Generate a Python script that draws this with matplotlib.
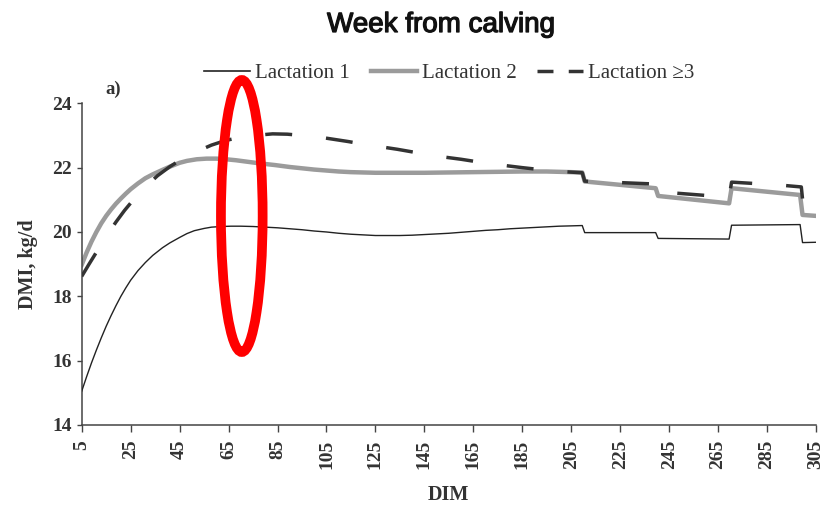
import matplotlib
matplotlib.use("Agg")
import matplotlib.pyplot as plt
import matplotlib.patheffects as pe
from matplotlib.lines import Line2D
from matplotlib.patches import Ellipse

plt.rcParams['lines.scale_dashes'] = False
plt.rcParams['font.family'] = ['Liberation Serif', 'DejaVu Serif']

# ---------------- data ----------------
dim_l1 = [5, 7, 9, 11, 13, 15, 17, 19, 21, 23, 25, 28, 31, 34, 38, 41, 45, 48, 51,
          55, 58, 62, 66, 70, 75, 80, 85, 90, 95, 100, 105, 110, 115, 120, 125,
          130, 135, 140, 145, 150, 155, 160, 165, 170, 175, 180, 185, 190, 195,
          200, 205, 209.5, 210.5, 239.5, 240.5, 269.5, 270.5, 298.5, 299.5, 305]
dmi_l1 = [15.05, 15.5, 15.93, 16.33, 16.71, 17.07, 17.4, 17.71, 18.0, 18.26, 18.5,
          18.8, 19.05, 19.27, 19.51, 19.66, 19.83, 19.95, 20.04, 20.11, 20.15,
          20.17, 20.18, 20.18, 20.17, 20.15, 20.13, 20.1, 20.07, 20.03, 20.0,
          19.96, 19.93, 19.91, 19.89, 19.89, 19.89, 19.9, 19.92, 19.94, 19.96,
          19.99, 20.02, 20.05, 20.07, 20.1, 20.12, 20.14, 20.16, 20.18, 20.19,
          20.2, 19.98, 19.98, 19.8, 19.78, 20.21, 20.23, 19.67, 19.68]

dim_l2 = [5, 7, 9, 11, 13, 15, 17, 19, 21, 23, 25, 28, 31, 34, 38, 41, 45, 48, 52,
          56, 60, 64, 68, 73, 78, 84, 90, 95, 100, 105, 110, 115, 120, 125, 135,
          145, 155, 165, 175, 185, 195, 200, 205, 209.5, 210.5, 239.5, 240.5,
          269.5, 270.5, 298.5, 299.5, 305]
dmi_l2 = [18.98, 19.36, 19.7, 20.0, 20.27, 20.5, 20.7, 20.88, 21.04, 21.19, 21.33,
          21.51, 21.67, 21.79, 21.93, 22.03, 22.15, 22.21, 22.26, 22.28, 22.28,
          22.26, 22.23, 22.18, 22.13, 22.08, 22.02, 21.98, 21.94, 21.91, 21.88,
          21.86, 21.85, 21.84, 21.84, 21.84, 21.85, 21.86, 21.87, 21.88, 21.88,
          21.87, 21.86, 21.85, 21.57, 21.36, 21.12, 20.89, 21.36, 21.15, 20.53,
          20.5]

dim_l3 = [5, 8, 11, 15, 19, 22.5, 26, 31, 36, 41, 46, 52, 58, 64, 70, 77, 83, 89,
          95, 102, 108, 114, 120, 127, 134, 140, 146, 153, 160, 171, 185, 197,
          203, 209.5, 210.5, 239.5, 240.5, 269.5, 270.5, 290, 299, 299.8, 305]
dmi_l3 = [18.62, 19.0, 19.37, 19.86, 20.31, 20.67, 20.99, 21.4, 21.75, 22.03,
          22.27, 22.5, 22.7, 22.85, 22.94, 23.01, 23.05, 23.04, 23.0, 22.95,
          22.88, 22.81, 22.73, 22.65, 22.57, 22.49, 22.41, 22.33, 22.26, 22.13,
          22.0, 21.9, 21.87, 21.84, 21.58, 21.49, 21.25, 21.08, 21.55, 21.46,
          21.4, 20.8, 20.77]

x_ticks = list(range(5, 306, 20))
y_ticks = [14, 16, 18, 20, 22, 24]
labels = ['Lactation 1', 'Lactation 2', 'Lactation \u22653']

# ---------------- figure ----------------
W, H = 836, 507
fig = plt.figure(figsize=(W / 100, H / 100), dpi=100)
ax = fig.add_axes([81.7 / W, 1 - 425 / H, (816 - 81.7) / W, (425 - 103.3) / H])

c1, c2, c3 = '#222222', '#9b9b9b', '#333333'
ax.plot(dim_l1, dmi_l1, color=c1, lw=1.0, zorder=3)
ax.plot(dim_l2, dmi_l2, color=c2, lw=3.2, zorder=2, solid_joinstyle='round')
ax.plot(dim_l3, dmi_l3, color=c3, lw=2.5, dashes=(19.4, 24.5), zorder=4)

ax.set_xlim(5, 305)
ax.set_ylim(14, 24)
ax.set_xticks(x_ticks)
ax.set_yticks(y_ticks)
ax.set_xticklabels([str(t) for t in x_ticks], rotation=90)

for s in ('top', 'right'):
    ax.spines[s].set_visible(False)
for s in ('left', 'bottom'):
    ax.spines[s].set_color('#444444')
    ax.spines[s].set_linewidth(1.1)

ax.tick_params(axis='x', length=4.7, width=1.0, pad=6, colors='#444444',
               labelcolor='#333333', labelsize=14)
ax.tick_params(axis='y', length=3.6, width=1.0, pad=3.6, colors='#444444',
               labelcolor='#333333', labelsize=14)
for lbl in ax.get_xticklabels() + ax.get_yticklabels():
    lbl.set_fontweight('bold')

ax.set_ylabel('DMI, kg/d', fontsize=14.5, fontweight='bold', color='#333333',
              ha='center', va='center')
ax.yaxis.set_label_coords((27.5 - 81.7) / (816 - 81.7), 0.5)
ax.set_xlabel('DIM', fontsize=14.5, fontweight='bold', color='#333333',
              ha='center', va='center')
ax.xaxis.set_label_coords((448.3 - 81.7) / (816 - 81.7), (425 - 494.7) / (425 - 103.3))

# title and panel label
fig.text(441 / W, 1 - 32 / H, 'Week from calving', ha='center', va='baseline',
         fontsize=20, family='Liberation Sans', color='#111111',
         path_effects=[pe.withStroke(linewidth=0.9, foreground='#111111')])
fig.text(113 / W, 1 - 89 / H, 'a)', ha='center', va='center', fontsize=13.5,
         fontweight='bold', color='#333333')

# legend
handles = [Line2D([], [], color=c1, lw=1.2),
           Line2D([], [], color=c2, lw=3.2),
           Line2D([], [], color=c3, lw=2.5, dashes=(11.5, 11))]
fig.legend(handles, labels, loc='center', bbox_to_anchor=(449.5 / W, 1 - 73 / H),
           bbox_transform=fig.transFigure, ncol=3, frameon=False, fontsize=15,
           handlelength=2.2, handletextpad=0.24, columnspacing=1.0, borderpad=0,
           labelcolor='#333333')

# red highlight ellipse
ell = Ellipse((241.8 / W, 1 - 216 / H), width=41.7 / W, height=272 / H,
              transform=fig.transFigure, fill=False, edgecolor='#ff0000',
              lw=7, zorder=10)
fig.add_artist(ell)

fig.savefig('out.png', dpi=100)
